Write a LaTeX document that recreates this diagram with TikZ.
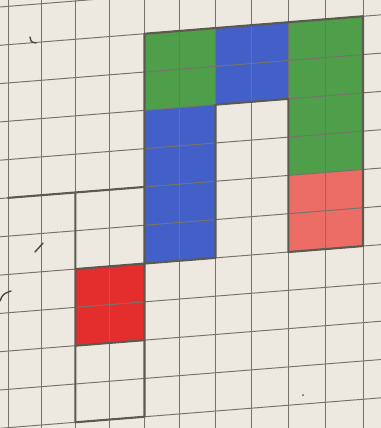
\documentclass[tikz,border=0pt]{standalone}
\definecolor{paper}{RGB}{237,233,224}
\definecolor{gridgray}{RGB}{118,116,106}
\definecolor{pencil}{RGB}{92,90,80}
\definecolor{crayongreen}{RGB}{78,158,74}
\definecolor{crayonblue}{RGB}{66,96,200}
\definecolor{crayonred}{RGB}{228,46,46}
\definecolor{crayonpink}{RGB}{236,108,102}
\tikzset{
  sheet/.style = {x=0.025cm, y=-0.025cm, line join=round, line cap=round},
  gridline/.style = {gridgray, line width=0.7pt},
  outline/.style = {pencil, line width=1.5pt},
  scribble/.style = {pencil!80!black, line width=1pt}
}

\begin{document}
\begin{tikzpicture}[sheet,
  declare function={gx(\i)=8+33.2*\i+0.23*\i*\i; gy(\i,\j)=7+38.3*\j-0.08*gx(\i);}]
  \useasboundingbox (0,0) rectangle (381,428);
  \clip (0,0) rectangle (381,428);
  \fill[paper] (0,0) rectangle (381,428);
  % grid corners
  \foreach \i in {0,...,10}
    \foreach \j in {0,...,11}
      \coordinate (p-\i-\j) at ({gx(\i)},{gy(\i,\j)});
  % crayon
  \fill[crayongreen] (p-4-1) -- (p-6-1) -- (p-6-3) -- (p-4-3) -- cycle;
  \fill[crayonblue] (p-6-1) -- (p-8-1) -- (p-8-3) -- (p-6-3) -- cycle;
  \fill[crayongreen] (p-8-1) -- (p-10-1) -- (p-10-5) -- (p-8-5) -- cycle;
  \fill[crayonpink] (p-8-5) -- (p-10-5) -- (p-10-7) -- (p-8-7) -- cycle;
  \fill[crayonblue] (p-4-3) -- (p-6-3) -- (p-6-7) -- (p-4-7) -- cycle;
  \fill[crayonred] (p-2-7) -- (p-4-7) -- (p-4-9) -- (p-2-9) -- cycle;
  % squared paper
  \foreach \j in {0,...,12}
    \draw[gridline] (0,{7+38.3*\j}) -- (381,{7+38.3*\j-0.08*381});
  \foreach \i in {0,...,10}
    \draw[gridline] ({gx(\i)},0) -- ({gx(\i)},428);
  % pencil outlines
  \draw[outline] (p-4-1) -- (p-10-1) -- (p-10-7) -- (p-8-7) -- (p-8-3)
    -- (p-6-3) -- (p-6-7) -- (p-4-7) -- cycle;
  \draw[outline] (p-0-5) -- (p-4-5);
  \draw[outline] (p-2-5) -- (p-2-11) -- (p-4-11) -- (p-4-7);
  \draw[outline] (p-2-7) -- (p-4-7);
  \draw[outline] (p-2-9) -- (p-4-9);
  % stray marks
  \draw[scribble] (30,37) .. controls (31,42) .. (36,43);
  \draw[scribble] (35,252) -- (43,243);
  \draw[scribble] (0,301) .. controls (3,294) .. (11,291);
  \fill[pencil] (303,395) circle (1);
\end{tikzpicture}
\end{document}
